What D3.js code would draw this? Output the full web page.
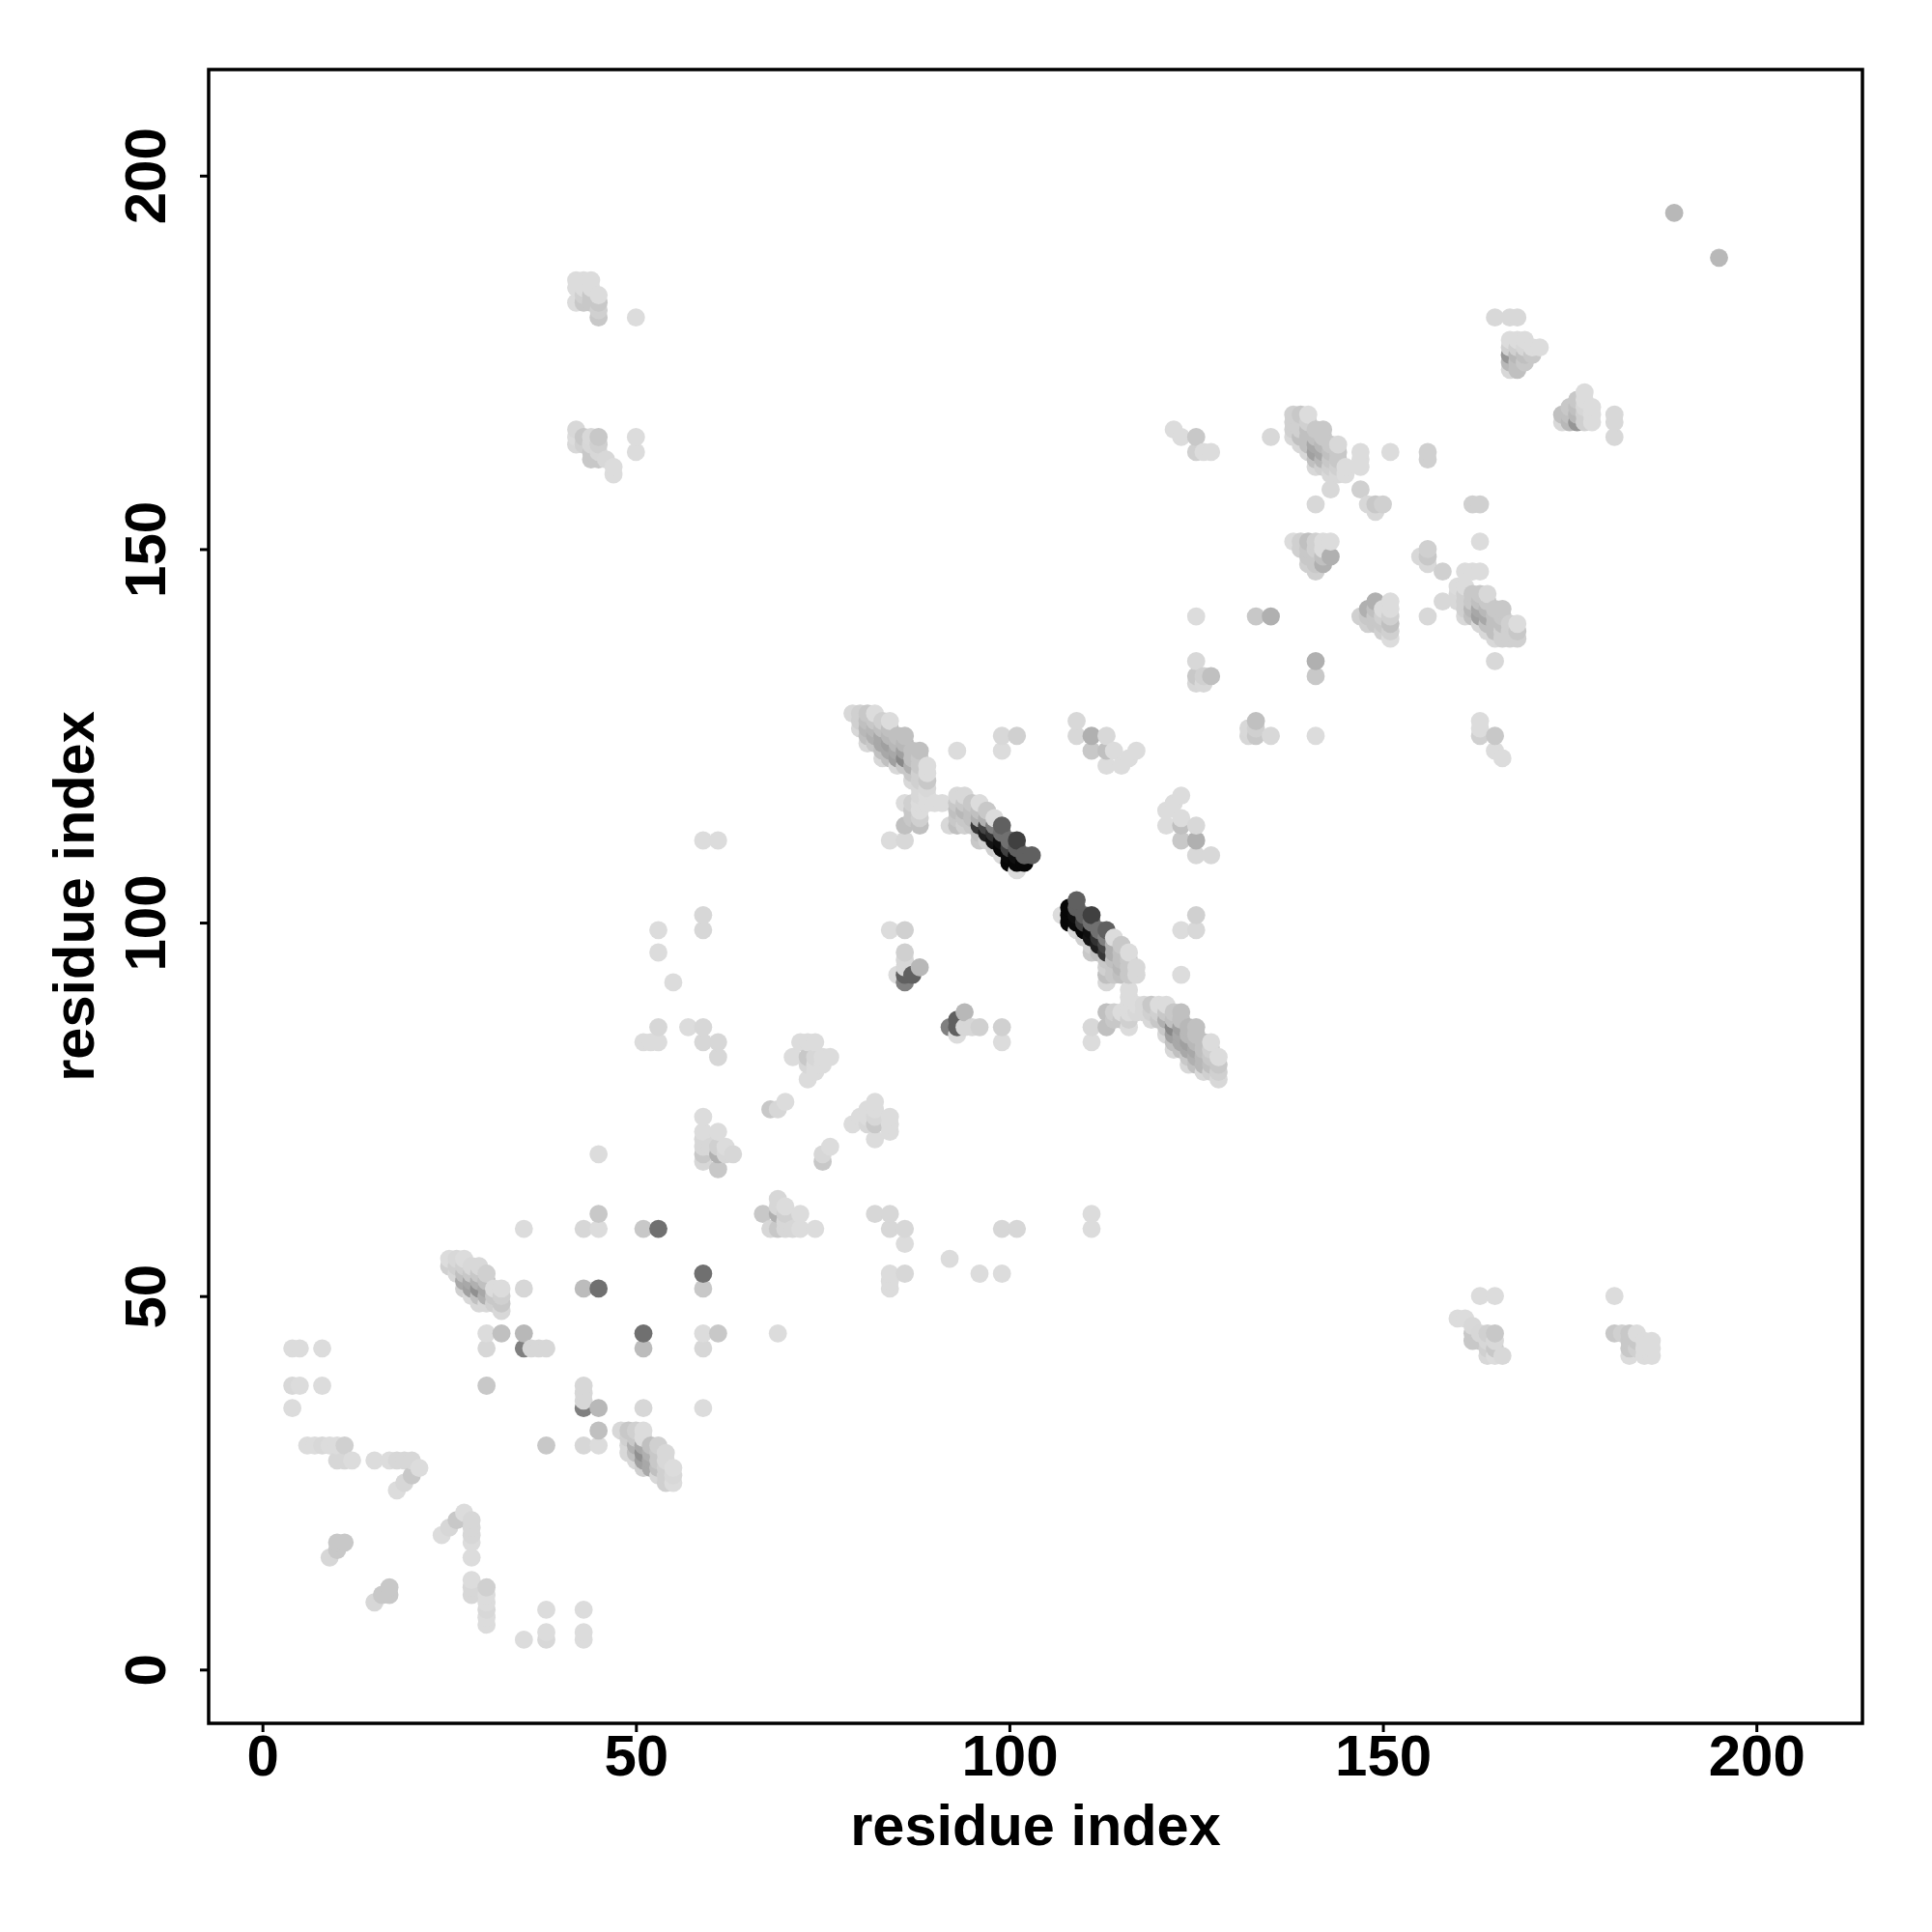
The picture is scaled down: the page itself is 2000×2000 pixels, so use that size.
<!DOCTYPE html>
<html>
<head>
<meta charset="utf-8">
<script src="https://d3js.org/d3.v7.min.js"></script>
<style>html,body{margin:0;padding:0;background:#fff}svg{display:block}</style>
</head>
<body>
<div id="chart"></div>
<script>
const tickValues = [0, 50, 100, 150, 200];
const xTitle = "residue index";
const yTitle = "residue index";
const domainLimits = [-7.2, 214.2];

// Contacts as [residue i, residue j, strength]; the map is symmetric, so only i < j is listed.
const contactsLow = [
[4,43,35],[5,43,35],[8,43,35],[4,38,39],[5,38,35],[8,38,35],[4,35,35],
[6,30,35],[7,30,35],[8,30,39],[9,30,35],[10,30,35],[11,30,47],
[10,28,40],[11,28,40],[12,28,35],[15,28,35],[17,28,35],[18,28,40],[19,28,40],[20,28,40],
[21,27,35],[20,26,55],[19,25,40],[18,24,35],
[9,15,40],[10,16,55],[10,17,55],[11,17,55],
[30,38,55],[30,43,40],[30,45,35],[32,45,63],[35,45,71],[35,43,127],[36,43,40],[37,43,40],[38,43,40],
[35,51,40],[43,51,67],[45,51,143],[35,59,35],[43,59,40],[45,59,35],[45,61,55],[45,69,35],
[51,59,55],[53,59,143],
[51,84,35],[52,84,35],[53,84,35],[53,86,40],[53,96,35],[53,99,35],[55,92,35],[57,86,35],
[59,86,40],[59,84,40],[61,84,40],[61,82,40],[59,99,40],[59,101,40],[59,111,35],[61,111,35],
[59,68,40],[59,69,55],[59,70,40],[59,71,40],[59,72,35],[59,74,35],[60,70,40],
[61,67,55],[61,69,79],[61,70,47],[61,72,35],[62,69,40],[62,70,35],[63,69,40],
[68,75,55],[69,75,40],[70,76,35],
[71,82,35],[72,84,35],[73,84,35],[74,84,35],[73,82,55],[74,82,40],[75,82,35],[76,82,35],
[73,81,40],[74,81,35],[75,81,35],[74,80,35],[73,79,35],
[84,99,35],[86,99,47],[86,96,47],[86,95,40],[86,94,40],[85,93,35],[86,93,159],[87,93,159],[88,94,71],[86,92,127],
[84,111,35],[86,111,39],[86,113,63],[88,113,63],[86,116,35],
[93,123,35],[99,123,35],[99,125,39],[101,125,47],
[109,125,39],[109,127,39],[111,125,79],[111,123,55],[113,125,39],[113,123,63],[113,121,35],
[114,123,35],[115,121,35],[116,122,35],[117,123,35]
];

const strandA = [
[25,55,35],[25,54,47],[26,55,39],[26,54,47],[26,53,39],
[27,55,35],[27,54,47],[27,53,63],[27,52,87],[27,51,47],
[28,54,39],[28,53,55],[28,52,87],[28,51,95],[28,50,39],
[29,54,39],[29,53,55],[29,52,79],[29,51,111],[29,50,63],[29,49,39],
[30,53,47],[30,52,63],[30,51,87],[30,50,79],[30,49,39],
[31,51,35],[31,50,55],[31,49,47],
[32,51,35],[32,50,47],[32,49,55],[32,48,39]
];

const strandB = [
[79,128,39],
[80,128,47],[80,127,47],[80,126,39],
[81,128,55],[81,127,63],[81,126,71],[81,125,63],[81,124,39],
[82,128,35],[82,127,55],[82,126,71],[82,125,79],[82,124,55],
[83,127,47],[83,126,63],[83,125,87],[83,124,87],[83,123,63],[83,122,39],
[84,127,35],[84,126,63],[84,125,71],[84,124,95],[84,123,87],[84,122,63],
[85,125,63],[85,124,71],[85,123,87],[85,122,95],[85,121,39],
[86,125,63],[86,124,71],[86,123,95],[86,122,119],[86,121,55],
[87,123,63],[87,122,63],[87,121,79],[87,120,55],[87,119,39],[87,116,47],[87,115,55],[87,114,55],
[88,123,63],[88,122,55],[88,121,55],[88,120,47],[88,119,47],[88,118,39],[88,117,39],[88,116,35],[88,115,35],[88,114,47],
[89,121,35],[89,120,35],[89,119,55],[89,118,39],[89,117,35],[89,116,35],
[90,116,35],[91,116,35]
];

const strandC = [
[92,113,39],
[93,117,39],[93,116,55],[93,115,63],[93,114,55],[93,113,63],
[94,117,39],[94,116,55],[94,115,71],[94,114,55],[94,113,47],
[95,116,55],[95,115,63],[95,114,63],[95,113,55],
[96,116,35],[96,115,63],[96,114,79],[96,113,200],[96,112,63],[96,111,55],
[97,115,55],[97,114,79],[97,113,185],[97,112,225],[97,111,47],
[98,114,35],[98,113,127],[98,112,205],[98,111,235],[98,110,47],
[99,113,159],[99,112,143],[99,111,240],[99,110,248],[99,109,39],
[100,111,143],[100,110,191],[100,109,245],[100,108,248],
[101,111,191],[101,110,159],[101,109,240],[101,108,248],[101,107,35],
[102,109,159],[102,108,248],
[103,109,159]
];

const contactsUpper = [
[122,166,35],[123,165,35],[125,165,55],[125,163,47],[126,163,35],[127,163,35],
[125,141,35],[133,141,55],[135,141,79],[125,135,39],[125,133,55],[126,133,47],[127,133,63],[125,132,40],[126,132,39],
[135,165,39],[141,156,39],[147,163,35],[147,162,35],[147,161,35],[151,163,35],[156,163,47],[156,162,47],
[143,158,39],[147,158,47],[148,156,39],[149,156,55],[150,156,47],[149,155,39],
[189,195,71],
[165,181,39],[167,181,39],[168,181,39],
[42,186,35],[43,186,35],[44,186,35],[42,185,35],[43,185,35],[42,183,35],[43,184,47],[43,183,55],[44,184,55],[44,183,55],
[45,184,35],[45,183,55],[45,182,47],[45,181,55],[50,181,35],
[42,166,39],[42,165,35],[42,164,39],[43,165,55],[43,164,47],[44,165,39],[44,163,55],[44,162,55],
[45,165,55],[45,164,47],[45,162,55],[46,162,39],[47,161,35],[47,160,35],[50,165,35],[50,163,35]
];

const strandD = [
[138,168,47],[138,167,47],[138,166,47],[138,165,39],
[139,168,55],[139,167,47],[139,166,47],[139,165,63],[139,164,39],
[140,168,35],[140,167,47],[140,166,63],[140,165,63],[140,164,63],[140,163,39],
[141,166,55],[141,165,63],[141,164,87],[141,163,95],[141,162,63],[141,161,39],
[142,166,55],[142,165,55],[142,164,71],[142,163,87],[142,162,71],[142,161,47],
[143,164,55],[143,163,63],[143,162,55],[143,161,47],[143,160,39],
[144,164,39],[144,163,55],[144,162,55],[144,161,47],[144,160,39],
[145,161,35],[145,160,35]
];

const strandE = [
[138,151,35],[139,151,47],[140,151,63],[141,151,47],[142,151,35],[143,151,35],
[139,150,47],[140,150,55],[141,150,47],[142,150,35],
[140,149,55],[141,149,55],[142,149,63],[143,149,79],
[140,148,47],[141,148,55],[142,148,79],[141,147,47]
];

const clusterH = [
[167,178,35],[168,178,35],[169,178,35],[170,177,35],[171,177,35],
[167,177,47],[168,177,47],[169,177,40],
[167,176,105],[168,176,71],[169,176,63],[170,176,55],
[167,175,71],[168,175,63],[169,175,55],
[167,174,39],[168,174,63]
];

const clusterJ = [
[45,163,40],[44,164,40],[46,162,35],[44,185,35]
];

const width = 2000, height = 2000;
const frame = {left:216, right:1928, top:72, bottom:1784};
const x = d3.scaleLinear().domain(domainLimits).range([frame.left, frame.right]);
const y = d3.scaleLinear().domain(domainLimits).range([frame.bottom, frame.top]);
const gray = d3.scaleLinear().domain([0,255]).range(["#ffffff","#000000"]);

const all = [contactsLow,strandA,strandB,strandC,contactsUpper,strandD,strandE,clusterH,clusterJ].flat();
const seen = new Map();
all.forEach(([a,b,s])=>{
  const i=Math.min(a,b), j=Math.max(a,b), k=i+"_"+j;
  if(!seen.has(k)) seen.set(k,{i,j,s});
});
const points=[];
seen.forEach(d=>{points.push({x:d.i,y:d.j,s:d.s});points.push({x:d.j,y:d.i,s:d.s});});
points.sort((a,b)=>d3.ascending(a.x,b.x)||d3.ascending(a.y,b.y));

const svg=d3.select("#chart").append("svg").attr("width",width).attr("height",height);
svg.append("rect").attr("width",width).attr("height",height).attr("fill","#fff");
svg.append("g").selectAll("circle").data(points).join("circle")
  .attr("cx",d=>x(d.x)).attr("cy",d=>y(d.y)).attr("r",9.4).attr("fill",d=>gray(d.s));
svg.append("rect").attr("x",frame.left).attr("y",frame.top)
  .attr("width",frame.right-frame.left).attr("height",frame.bottom-frame.top)
  .attr("fill","none").attr("stroke","#000").attr("stroke-width",3.5);
const font='"Liberation Sans",Arial,sans-serif';
const gx=svg.append("g").attr("transform",`translate(0,${frame.bottom})`)
  .call(d3.axisBottom(x).tickValues(tickValues).tickSize(9).tickFormat(d3.format("d")));
gx.select(".domain").remove();
gx.selectAll("line").attr("stroke","#000").attr("stroke-width",3);
gx.selectAll("text").attr("y",54).attr("dy",0).attr("font-family",font).attr("font-weight","bold").attr("font-size",60).attr("fill","#000");
const gy=svg.append("g").attr("transform",`translate(${frame.left},0)`)
  .call(d3.axisLeft(y).tickValues(tickValues).tickSize(9).tickFormat(d3.format("d")));
gy.select(".domain").remove();
gy.selectAll("line").attr("stroke","#000").attr("stroke-width",3);
gy.selectAll("text").attr("x",null).attr("dy",0).attr("font-family",font).attr("font-weight","bold").attr("font-size",60).attr("fill","#000")
  .attr("text-anchor","middle").attr("transform","translate(-45,0) rotate(-90)");
svg.append("text").text(xTitle).attr("x",1072).attr("y",1910).attr("text-anchor","middle")
  .attr("font-family",font).attr("font-weight","bold").attr("font-size",59.5);
svg.append("text").text(yTitle).attr("transform","translate(97,928) rotate(-90)").attr("text-anchor","middle")
  .attr("font-family",font).attr("font-weight","bold").attr("font-size",59.5);
</script>
</body>
</html>
